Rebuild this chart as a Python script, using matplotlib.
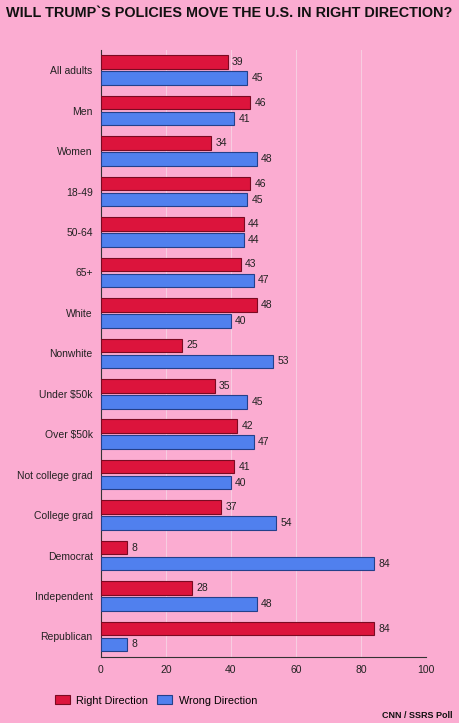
import numpy as np
import matplotlib.pyplot as plt

plt.rcParams['font.family'] = ['Liberation Sans', 'DejaVu Sans']

groups = ['All adults', 'Men', 'Women', '18-49', '50-64', '65+', 'White', 'Nonwhite',
          'Under $50k', 'Over $50k', 'Not college grad', 'College grad',
          'Democrat', 'Independent', 'Republican']
right_dir = [39, 46, 34, 46, 44, 43, 48, 25, 35, 42, 41, 37, 8, 28, 84]
wrong_dir = [45, 41, 48, 45, 44, 47, 40, 53, 45, 47, 40, 54, 84, 48, 8]

bg = '#FBACD1'
red = '#DC143C'
blue = '#5080EE'

fig = plt.figure(figsize=(4.59, 7.23), dpi=100, facecolor=bg)
ax = fig.add_axes([0.220, 0.0917, 0.708, 0.8392], facecolor=bg)

y = np.arange(len(groups))
h = 0.335
off = 0.197
b1 = ax.barh(y - off, right_dir, height=h, color=red, edgecolor='#7a0a22', linewidth=0.8,
             label='Right Direction', zorder=3)
b2 = ax.barh(y + off, wrong_dir, height=h, color=blue, edgecolor='#24408a', linewidth=0.8,
             label='Wrong Direction', zorder=3)

for bars in (b1, b2):
    ax.bar_label(bars, padding=3, fontsize=7.5, color='#222222')

ax.set_xlim(0, 100)
ax.set_ylim(len(groups) - 0.5, -0.5)
ax.set_yticks(y)
ax.set_yticklabels(groups, fontsize=7.5, color='#222222')
ax.set_xticks([0, 20, 40, 60, 80, 100])
ax.tick_params(axis='x', labelsize=7.5, colors='#222222', length=0, pad=6)
ax.tick_params(axis='y', length=0, pad=6)
ax.grid(axis='x', color='#f7cde1', linewidth=0.8, zorder=0)

for s in ['top', 'right']:
    ax.spines[s].set_visible(False)
ax.spines['left'].set_color('#333333')
ax.spines['bottom'].set_color('#333333')
ax.spines['left'].set_linewidth(0.8)
ax.spines['bottom'].set_linewidth(0.8)

fig.text(0.5, 0.982, 'WILL TRUMP`S POLICIES MOVE THE U.S. IN RIGHT DIRECTION?',
         ha='center', va='center', fontsize=10.4, fontweight='bold', color='#111111')

fig.legend(handles=[b1, b2], loc='center left', bbox_to_anchor=(0.098, 0.031), ncol=2,
           frameon=False, fontsize=7.8, handlelength=1.4, handleheight=0.9,
           columnspacing=0.8, handletextpad=0.6)

fig.text(0.985, 0.011, 'CNN / SSRS Poll', ha='right', va='center', fontsize=6.5,
         fontweight='bold', color='#111111')

fig.savefig('out.png', dpi=100, facecolor=bg)
